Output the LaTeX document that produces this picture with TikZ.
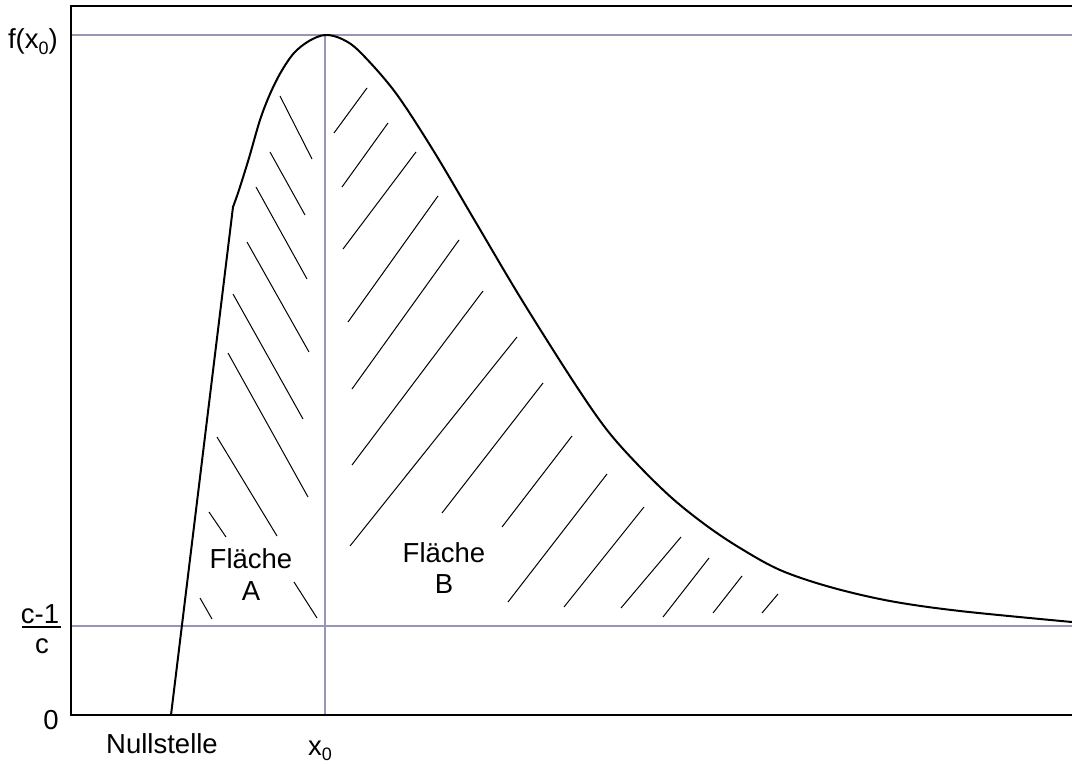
\documentclass[tikz,border=0pt]{standalone}
\usepackage{fontspec}
\setmainfont{Liberation Sans}
\definecolor{guide}{RGB}{150,150,182}
\newcommand{\subz}{\raisebox{-5.5pt}{\fontsize{18}{18}\selectfont 0}}
\begin{document}
\begin{tikzpicture}[x=1pt,y=-1pt,
  frame/.style={black,line width=1.4pt},
  guideline/.style={guide,line width=2pt},
  curve/.style={black,line width=2pt,line join=round},
  hatch/.style={black,line width=1pt},
  lbl/.style={inner sep=0pt,font=\fontsize{27.5}{32}\selectfont},
  area/.style={lbl,align=center}]
\useasboundingbox (0,0) rectangle (1072,765);
% guide lines
\coordinate (gl1) at (71,35);  \coordinate (gr1) at (1072,35);
\coordinate (gl2) at (71,626); \coordinate (gr2) at (1072,626);
\coordinate (xt) at (325,35);  \coordinate (xb) at (325,715);
\draw[guideline] (gl1) -- (gr1);
\draw[guideline] (gl2) -- (gr2);
\draw[guideline] (xt) -- (xb);
% frame
\coordinate (ftr) at (1072,6); \coordinate (ftl) at (71,6);
\coordinate (fbl) at (71,715); \coordinate (fbr) at (1072,715);
\draw[frame] (ftr) -- (ftl) -- (fbl) -- (fbr);
% curve
\coordinate (root) at (171,715);
\draw[curve] (root) -- plot[smooth,tension=0.55] coordinates {
 (233,207) (239,190) (249,158) (260,120) (270,94) (281,72)
 (294,53) (309,41) (325,35) (342,39) (360,52) (395,92) (433,150)
 (475,221) (520,297) (573,381) (607,430) (640,467) (673,499) (707,526)
 (740,548) (780,570) (830,587) (890,601) (960,611) (1072,622)};
% hatching area A
\draw[hatch] (280,96) -- (312,159);
\draw[hatch] (270,152) -- (305,215);
\draw[hatch] (256,187) -- (307,279);
\draw[hatch] (247,242) -- (309,352);
\draw[hatch] (233,294) -- (303,419);
\draw[hatch] (228,353) -- (308,497);
\draw[hatch] (217,437) -- (277,536);
\draw[hatch] (209,512) -- (226,537);
\draw[hatch] (200,598) -- (212,619);
\draw[hatch] (294,582) -- (317,618);
% hatching area B
\draw[hatch] (334,133) -- (367,88);
\draw[hatch] (342,187) -- (388,123);
\draw[hatch] (343,249) -- (416,152);
\draw[hatch] (348,322) -- (438,196);
\draw[hatch] (352,389) -- (459,240);
\draw[hatch] (352,465) -- (483,291);
\draw[hatch] (350,546) -- (517,337);
\draw[hatch] (442,513) -- (543,383);
\draw[hatch] (502,527) -- (572,436);
\draw[hatch] (508,602) -- (607,474);
\draw[hatch] (564,607) -- (644,507);
\draw[hatch] (621,608) -- (681,537);
\draw[hatch] (663,617) -- (709,558);
\draw[hatch] (713,613) -- (742,576);
\draw[hatch] (762,613) -- (778,594);
% labels
\node[lbl,anchor=base east] (fx) at (58,49) {f(x\subz)};
\node[lbl,anchor=base] (cm) at (40,623) {c-1};
\node[lbl,anchor=base] (cc) at (42,653) {c};
\coordinate (barl) at (22,627); \coordinate (barr) at (61,627);
\draw[black,line width=1.4pt] (barl) -- (barr);
\node[lbl,anchor=base] (zero) at (51,729) {0};
\node[lbl,anchor=base] (null) at (162,753) {Nullstelle};
\node[lbl,anchor=base] (x0) at (320,755) {x\subz};
\node[area,anchor=base] (fa1) at (251,568) {Fläche};
\node[area,anchor=base] (fa2) at (251,600) {A};
\node[area,anchor=base] (fb1) at (444,562) {Fläche};
\node[area,anchor=base] (fb2) at (444,593) {B};
\end{tikzpicture}
\end{document}
